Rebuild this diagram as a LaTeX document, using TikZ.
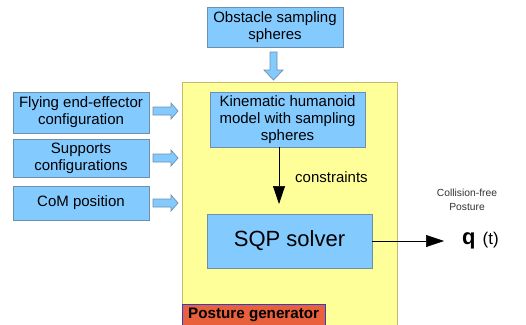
\documentclass[tikz,border=0pt]{standalone}
\usepackage{fontspec}
\setmainfont{Liberation Sans}
\usetikzlibrary{arrows.meta}
\definecolor{boxblue}{HTML}{83CAFF}
\definecolor{boxedge}{HTML}{6F8FAF}
\definecolor{paleyellow}{HTML}{FFFF99}
\definecolor{yellowedge}{HTML}{C8B870}
\definecolor{labelred}{HTML}{E8603C}
\definecolor{labeledge}{HTML}{2E3FC8}
\tikzset{
  bluebox/.style={draw=boxedge, line width=0.8pt, fill=boxblue, rectangle,
    align=center, inner sep=0pt, font=\fontsize{15}{17}\selectfont},
  hollowarrow/.style={draw=boxedge, line width=0.7pt, fill=boxblue, line join=miter},
  thinarrow/.style={draw=black, line width=0.7pt, -{Triangle[length=18pt,width=12pt]}},
}
\begin{document}
\begin{tikzpicture}[x=1pt,y=-1pt]
  \useasboundingbox (0,0) rectangle (526,324);
  \fill[white] (0,0) rectangle (526,324);

  % generator frame with its label
  \begin{scope}
    \clip (0,0) rectangle (526,324);
    \node[draw=yellowedge, line width=0.8pt, fill=paleyellow, minimum width=215pt,
      minimum height=250pt, anchor=north west, inner sep=0pt] (frame) at (182,82) {};
    \node[draw=labeledge, line width=0.8pt, fill=labelred, minimum width=143pt,
      minimum height=26pt, anchor=north west, inner sep=0pt] (pglabel) at (182,304) {};
    \node[anchor=west, font=\fontsize{15.2}{17}\selectfont\bfseries, inner sep=0pt]
      (pgtext) at (188,314.5) {Posture generator};
  \end{scope}

  % input blocks
  \node[bluebox, minimum width=136pt, minimum height=40pt] (obst) at (275,27)
    {Obstacle sampling\\spheres};
  \node[bluebox, minimum width=136pt, minimum height=41pt] (fly) at (81,112.5)
    {Flying end-effector\\configuration};
  \node[bluebox, minimum width=136pt, minimum height=38pt] (supp) at (81,158)
    {Supports\\configurations};
  \node[bluebox, minimum width=136pt, minimum height=34pt] (com) at (81,203)
    {CoM position};

  % inner blocks
  \node[bluebox, minimum width=155pt, minimum height=55pt] (kin) at (287.5,119.5)
    {Kinematic humanoid\\model with sampling\\spheres};
  \node[bluebox, minimum width=165pt, minimum height=54pt,
    font=\fontsize{22}{26}\selectfont] (sqp) at (289.5,241) {SQP solver};

  % block arrows into the generator
  \draw[hollowarrow] (270,52) -- (277,52) -- (277,70) -- (283,70) -- (273.5,80)
    -- (264,70) -- (270,70) -- cycle;
  \foreach \yy in {111,158,203}{
    \draw[hollowarrow] (153,\yy-4) -- (171,\yy-4) -- (171,\yy-8) -- (178,\yy)
      -- (171,\yy+8) -- (171,\yy+4) -- (153,\yy+4) -- cycle;
  }

  % constraints from the model to the solver
  \coordinate (ctip) at (279,204);
  \draw[thinarrow] (kin.south -| ctip) -- (ctip);
  \node[anchor=west, font=\fontsize{15}{17}\selectfont, inner sep=0pt] (cons) at (295,177)
    {constraints};

  % solver output
  \coordinate (otip) at (444,241);
  \draw[thinarrow, line width=0.6pt] (sqp.east) -- (otip);
  \node[anchor=west, inner sep=0pt] (q) at (462,241)
    {\fontsize{22}{24}\selectfont\bfseries q\hspace{7pt}\fontsize{17}{18}\mdseries(t)};
  \node[align=center, font=\fontsize{10.3}{14}\selectfont, text=black!80, inner sep=0pt]
    (cf) at (467,200) {Collision-free\\Posture};
\end{tikzpicture}
\end{document}
